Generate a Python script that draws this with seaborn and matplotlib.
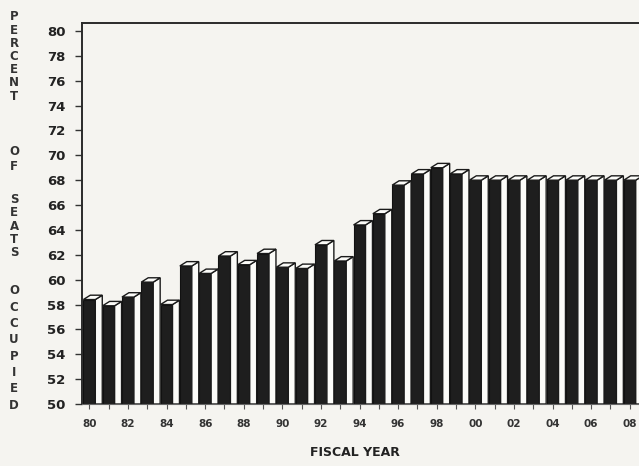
import numpy as np
import pandas as pd
import matplotlib
matplotlib.use("Agg")
import matplotlib.pyplot as plt
import seaborn as sns
from matplotlib.patches import Polygon

# ---- data ----
years = ["1980", "1981", "1982", "1983", "1984", "1985", "1986", "1987", "1988", "1989",
         "1990", "1991", "1992", "1993", "1994", "1995", "1996", "1997", "1998", "1999",
         "2000", "2001", "2002", "2003", "2004", "2005", "2006", "2007", "2008"]
pct_occupied = [58.4, 57.9, 58.6, 59.8, 58.0, 61.1, 60.5, 61.9, 61.2, 62.1,
                61.0, 60.9, 62.8, 61.5, 64.4, 65.3, 67.6, 68.5, 69.0, 68.5,
                68.0, 68.0, 68.0, 68.0, 68.0, 68.0, 68.0, 68.0, 68.0]
x_tick_labels = ["80", "", "82", "", "84", "", "86", "", "88", "", "90", "", "92", "", "94", "",
                 "96", "", "98", "", "00", "", "02", "", "04", "", "06", "", "08"]
y_ticks = [50, 52, 54, 56, 58, 60, 62, 64, 66, 68, 70, 72, 74, 76, 78, 80]
y_label_words = ["PERCENT", "OF", "SEATS", "OCCUPIED"]
x_title = "FISCAL YEAR"

df = pd.DataFrame({"year": years, "pct": pct_occupied})

sns.set_theme(style="white")
plt.rcParams["font.family"] = ["DejaVu Sans"]

paper = "#f5f4f0"
ink = "#1e1e1e"
W, H = 639, 466
fig = plt.figure(figsize=(W / 100, H / 100), dpi=100, facecolor=paper)
ax = fig.add_axes([82 / W, 62 / H, (W - 82) / W, 381 / H])
ax.set_facecolor(paper)

bar_w = 0.62
sns.barplot(data=df, x="year", y="pct", color=ink, saturation=1, width=bar_w,
            edgecolor="#111111", linewidth=0.8, ax=ax, zorder=2)

y0 = 50.0
y_top = 80.64
dx, dy = 0.36, 0.35
for p in list(ax.patches):
    xl = p.get_x()
    xr = xl + p.get_width()
    v = p.get_height()
    side = Polygon([(xr, y0), (xr, v), (xr + dx, v + dy), (xr + dx, y0)],
                   closed=True, facecolor="#fbfbf8", edgecolor="#1a1a1a", linewidth=1.0, zorder=3)
    cap = Polygon([(xl, v), (xl + dx, v + dy), (xr + dx, v + dy), (xr, v)],
                  closed=True, facecolor="#fbfbf8", edgecolor="#1a1a1a", linewidth=1.0, zorder=3)
    ax.add_patch(side)
    ax.add_patch(cap)

ax.set_ylim(y0, y_top)
ax.set_xlim(-0.38, 28.48)
ax.set_yticks(y_ticks)
ax.set_yticklabels([str(t) for t in y_ticks], fontsize=9.5, fontweight="bold", color="#222222")
ax.set_xticks(range(len(years)))
ax.set_xticklabels(x_tick_labels, fontsize=7.5, fontweight="bold", color="#333333")
ax.tick_params(axis="y", direction="out", length=5, width=1.0, pad=7, left=True, color="#333333")
ax.tick_params(axis="x", direction="out", length=3.5, width=0.8, pad=7, bottom=True, color="#555555")
ax.set_xlabel("")
ax.set_ylabel("")

for s in ["left", "top"]:
    ax.spines[s].set_visible(True)
    ax.spines[s].set_color("#2a2a2a")
    ax.spines[s].set_linewidth(1.4)
ax.spines["bottom"].set_color("#666666")
ax.spines["bottom"].set_linewidth(0.8)
ax.spines["right"].set_visible(False)

# x-axis title
fig.text(355 / W, 1 - 452 / H, x_title, ha="center", va="center",
         fontsize=9, fontweight="bold", color="#222222")

# stacked vertical y-axis title
word_layout = [(17, 13.2), (152, 14.0), (199, 13.5), (291, 16.3)]
for word, (start, step) in zip(y_label_words, word_layout):
    for k, ch in enumerate(word):
        fig.text(14 / W, 1 - (start + k * step) / H, ch, ha="center", va="center",
                 fontsize=8.5, fontweight="bold", color="#333333")

fig.savefig("out.png", dpi=100, facecolor=paper)
